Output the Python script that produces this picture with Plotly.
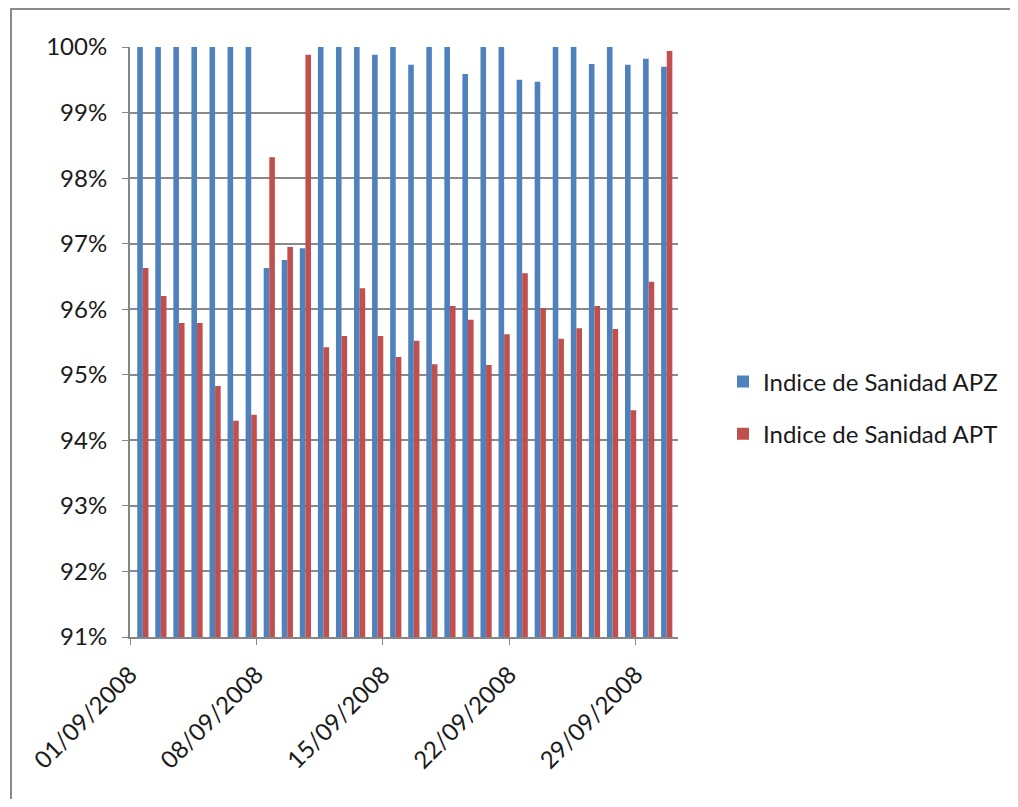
import plotly.graph_objects as go
import pandas as pd

dates = pd.date_range("2008-09-01", "2008-09-30", freq="D")
apz = [100.0, 100.0, 100.0, 100.0, 100.0, 100.0, 100.0, 96.63, 96.75, 96.93,
       100.0, 100.0, 100.0, 99.88, 100.0, 99.73, 100.0, 100.0, 99.59, 100.0,
       100.0, 99.50, 99.47, 100.0, 100.0, 99.74, 100.0, 99.73, 99.82, 99.70]
apt = [96.63, 96.20, 95.79, 95.79, 94.83, 94.30, 94.39, 98.32, 96.95, 99.88,
       95.42, 95.59, 96.32, 95.59, 95.27, 95.52, 95.16, 96.05, 95.84, 95.15,
       95.62, 96.55, 96.02, 95.55, 95.71, 96.05, 95.70, 94.46, 96.42, 99.94]
series_names = ["Indice de Sanidad APZ", "Indice de Sanidad APT"]
colors = ["#4F81BD", "#C0504D"]

DAY = 86400000
bar_w = 0.31 * DAY
offsets = [0.40 * DAY, 0.71 * DAY]

fig = go.Figure()
for name, vals, col, off in zip(series_names, [apz, apt], colors, offsets):
    fig.add_trace(go.Bar(
        x=dates, y=[v / 100 for v in vals], name=name, legendgroup=name,
        marker=dict(color=col, line=dict(width=0)),
        width=bar_w, offset=off,
    ))

# page body adds an 8px offset; target screen coords minus 8
OFF = 8
W, H = 1002, 791
L, R, T, B = 130 - OFF, 678 - OFF, 47 - OFF, 637 - OFF
fig.update_layout(
    width=W, height=H,
    margin=dict(l=L, r=W - R, t=T, b=H - B, autoexpand=False),
    paper_bgcolor="white", plot_bgcolor="white",
    barmode="overlay",
    font=dict(family="Lato, Carlito, sans-serif", size=23, color="#1a1a1a"),
    legend=dict(x=(723 - OFF - L) / (R - L), y=(B - (408 - OFF)) / (B - T),
                xanchor="left", yanchor="middle",
                traceorder="grouped", tracegroupgap=18, font=dict(size=24),
                bgcolor="rgba(0,0,0,0)"),
    showlegend=True,
)
fig.update_xaxes(
    type="date", range=["2008-09-01", "2008-10-01 08:00"],
    tick0="2008-09-01", dtick=7 * DAY, tickformat="%d/%m/%Y",
    tickangle=-45, ticks="outside", ticklen=6, tickcolor="#868686",
    showline=True, linecolor="#868686", linewidth=2, showgrid=False,
    tickfont=dict(size=24), ticklabelstandoff=6,
)
fig.update_yaxes(
    range=[0.91, 1.0], dtick=0.01, tickformat=".0%",
    ticks="outside", ticklen=6, tickcolor="#868686",
    showline=True, linecolor="#868686", linewidth=2,
    showgrid=True, gridcolor="#8a8a8a", gridwidth=2,
    tickfont=dict(size=24), zeroline=False, ticklabelstandoff=10,
)
# chart-area border
fig.add_shape(type="rect", xref="paper", yref="paper", layer="below",
              x0=(11 - OFF - L) / (R - L), x1=(1040 - OFF - L) / (R - L),
              y0=(B - (830 - OFF)) / (B - T), y1=(B - (9 - OFF)) / (B - T),
              line=dict(color="#8a8a8a", width=2), fillcolor="rgba(0,0,0,0)")
fig.write_html("out.html")
